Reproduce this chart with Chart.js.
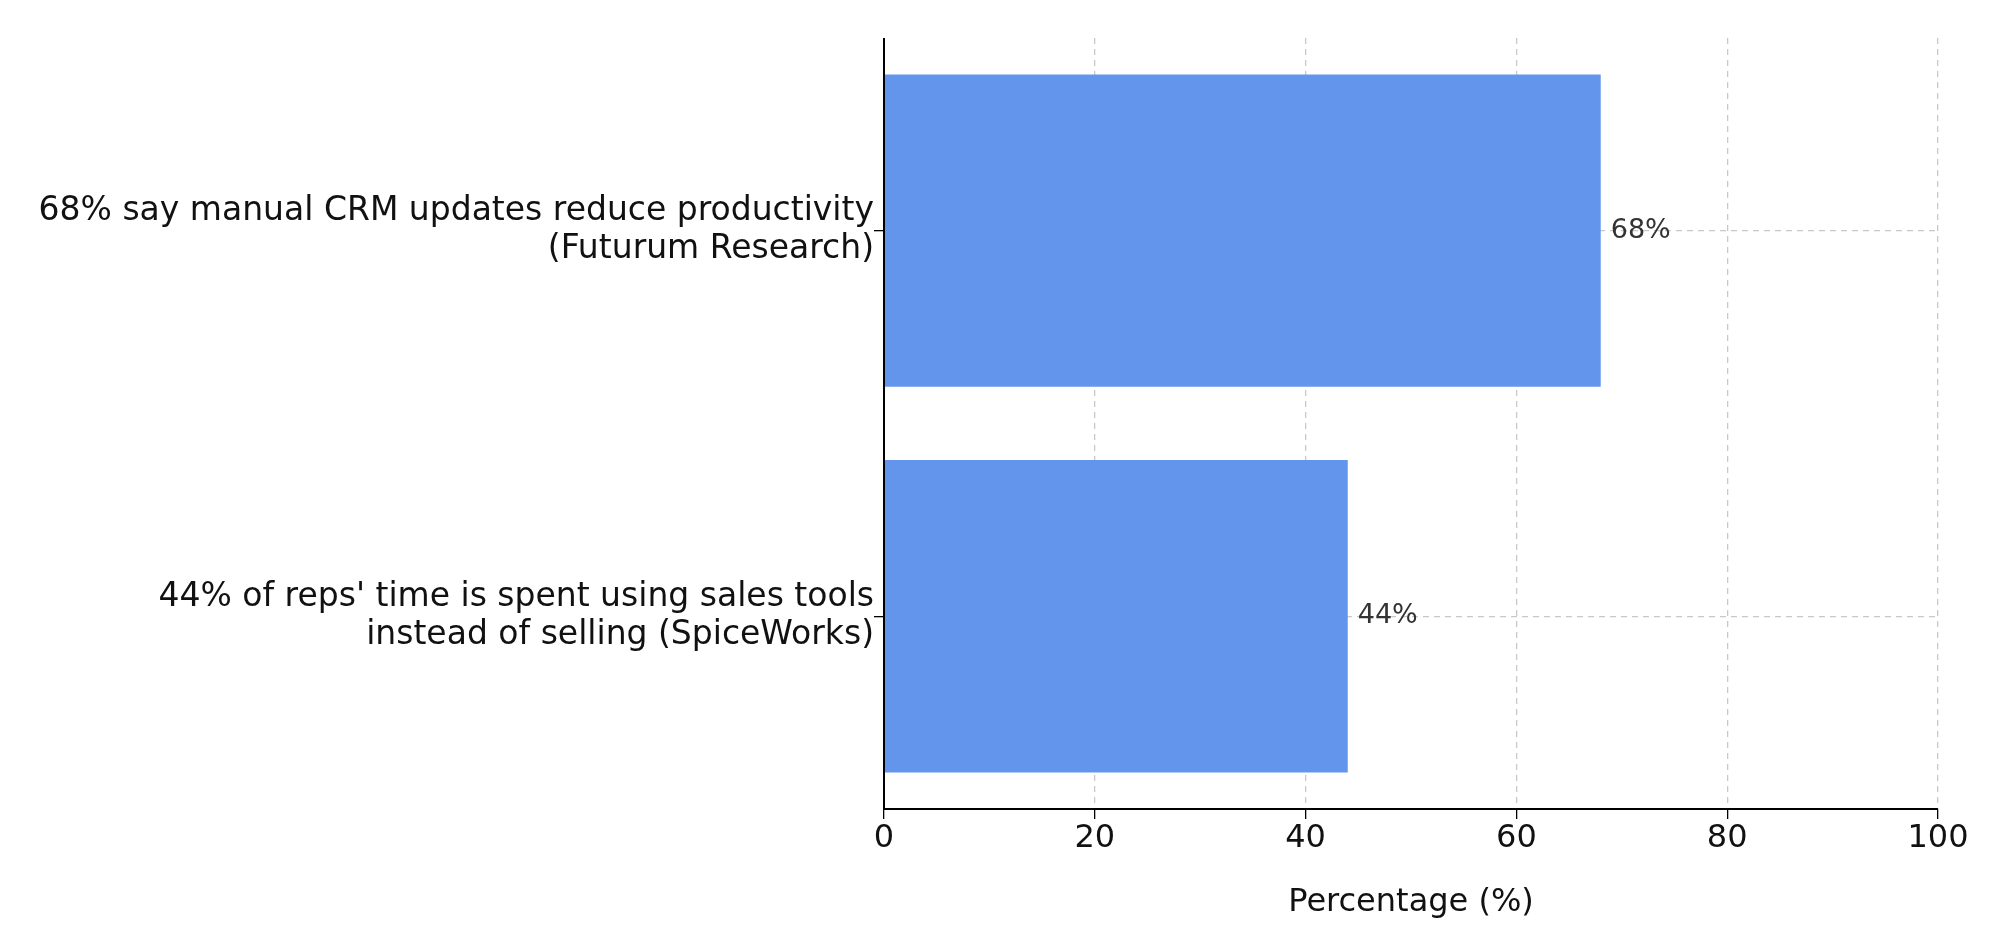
<!DOCTYPE html>
<html>
<head>
<meta charset="utf-8">
<script src="https://cdn.jsdelivr.net/npm/chart.js@4"></script>
<style>
  html, body { margin: 0; padding: 0; background: #fff; }
  #wrap { width: 2000px; height: 926px; }
</style>
</head>
<body>
<div id="wrap"><canvas id="myChart"></canvas></div>
<script>
const categories = [
  ["68% say manual CRM updates reduce productivity", "(Futurum Research)"],
  ["44% of reps' time is spent using sales tools", "instead of selling (SpiceWorks)"],
];
const percentages = [68, 44];
const xTicks = [0, 20, 40, 60, 80, 100];

const FONT = "'DejaVu Sans', sans-serif";

// value labels to the right of each bar, plus solid black left/bottom spines
const valueLabels = {
  id: "valueLabels",
  afterDatasetsDraw(chart) {
    const ctx = chart.ctx;
    const meta = chart.getDatasetMeta(0);
    ctx.save();
    ctx.font = "27px " + FONT;
    ctx.fillStyle = "#333";
    ctx.textBaseline = "middle";
    meta.data.forEach((bar, i) => {
      ctx.fillText(percentages[i] + "%", bar.x + 10, bar.y);
    });
    const a = chart.chartArea;
    ctx.strokeStyle = "#000";
    ctx.lineWidth = 2;
    ctx.setLineDash([]);
    ctx.beginPath();
    ctx.moveTo(a.left, a.top);
    ctx.lineTo(a.left, a.bottom);
    ctx.lineTo(a.right, a.bottom);
    ctx.stroke();
    ctx.restore();
  },
};

const ctx = document.getElementById("myChart").getContext("2d");
const myChart = new Chart(ctx, {
  type: "bar",
  data: {
    labels: categories,
    datasets: [
      {
        data: percentages,
        backgroundColor: "#6495ED",
        barPercentage: 0.81,
        categoryPercentage: 1,
      },
    ],
  },
  plugins: [valueLabels],
  options: {
    indexAxis: "y",
    responsive: true,
    maintainAspectRatio: false,
    animation: false,
    layout: { padding: { top: -25, right: 62, left: 0, bottom: 0 } },
    scales: {
      x: {
        min: 0,
        max: 100,
        afterBuildTicks(scale) {
          scale.ticks = xTicks.map((v) => ({ value: v }));
        },
        afterFit(scale) {
          scale.height = 117;
        },
        border: { display: false, dash: [6, 5] },
        grid: {
          color: "#c8c8c8",
          lineWidth: 1.3,
          tickColor: "#000",
          tickLength: 10,
          tickBorderDash: [],
        },
        ticks: {
          color: "#111",
          font: { family: FONT, size: 32 },
          padding: 0,
        },
        title: {
          display: true,
          text: "Percentage (%)",
          color: "#111",
          font: { family: FONT, size: 32 },
          padding: { top: 0 },
        },
      },
      y: {
        afterFit(scale) {
          scale.width = 884;
        },
        border: { display: false, dash: [6, 5] },
        grid: {
          offset: false,
          color: "#c8c8c8",
          lineWidth: 1.3,
          tickColor: "#000",
          tickLength: 10,
          tickBorderDash: [],
        },
        ticks: {
          color: "#111",
          font: { family: FONT, size: 33, lineHeight: 1.15 },
          padding: 0,
        },
      },
    },
    plugins: {
      legend: { display: false },
      tooltip: { enabled: false },
    },
  },
});
</script>
</body>
</html>
